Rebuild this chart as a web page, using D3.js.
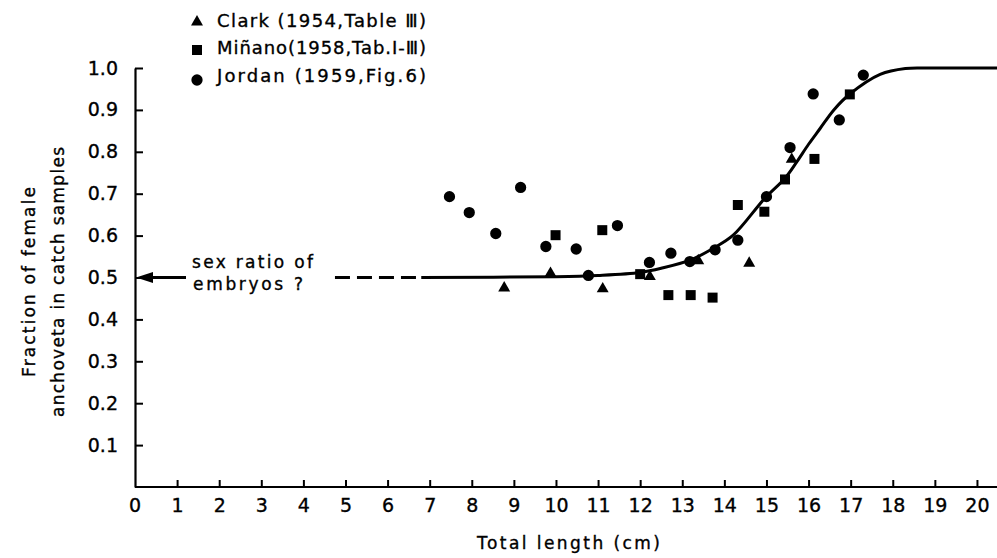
<!DOCTYPE html>
<html>
<head>
<meta charset="utf-8">
<script src="https://cdn.jsdelivr.net/npm/d3@7"></script>
<style>
  html, body { margin: 0; padding: 0; background: #fff; }
  svg { display: block; }
  text { font-family: "DejaVu Sans", sans-serif; fill: #000; stroke: #000; stroke-width: 0.35px; }
</style>
</head>
<body>
<svg id="chart" width="997" height="558"></svg>
<script>
// Fraction of females in anchoveta catch samples by total length (cm)

// Clark (1954, Table III)
const clarkLength = [8.77, 9.87, 11.11, 12.23, 13.38, 14.59, 15.6];
const clarkFemale = [0.475, 0.51, 0.473, 0.502, 0.54, 0.534, 0.782];

// Miñano (1958, Tab. I-III)
const minanoLength = [9.99, 11.1, 12.0, 12.67, 13.2, 13.72, 14.32, 14.95, 15.44, 16.14, 16.98];
const minanoFemale = [0.601, 0.613, 0.508, 0.458, 0.458, 0.452, 0.673, 0.657, 0.734, 0.783, 0.937];

// Jordan (1959, Fig. 6)
const jordanLength = [7.47, 7.94, 8.57, 9.16, 9.76, 10.48, 10.77, 11.46, 12.22, 12.73, 13.18, 13.78, 14.32, 15.0, 15.56, 16.11, 16.73, 17.3];
const jordanFemale = [0.693, 0.655, 0.605, 0.715, 0.574, 0.568, 0.505, 0.624, 0.536, 0.558, 0.538, 0.566, 0.589, 0.693, 0.81, 0.938, 0.876, 0.983];

// Hand-fitted curve: dashed extrapolation, then the solid fit
const dashLength = [4.75, 6.8];
const dashFemale = [0.5, 0.5];
const fitLength = [6.8, 10.0, 11.0, 12.0, 12.5, 13.2, 13.74, 14.21, 14.96, 15.44, 15.72, 16.0, 16.27, 16.6, 16.98, 17.7, 18.3, 18.9, 20.5];
const fitFemale = [0.5, 0.502, 0.505, 0.512, 0.522, 0.542, 0.57, 0.601, 0.689, 0.737, 0.776, 0.818, 0.855, 0.9, 0.938, 0.985, 0.999, 1.0, 1.0];

// Axis ticks
const xTicks = d3.range(0, 21);
const yTicks = [0.1, 0.2, 0.3, 0.4, 0.5, 0.6, 0.7, 0.8, 0.9, 1.0];
const embryoRatio = 0.5;

// Legend
const legendLabels = ["Clark (1954,Table Ⅲ)", "Miñano(1958,Tab.Ⅰ-Ⅲ)", "Jordan (1959,Fig.6)"];
const legendSymbols = ["triangle", "square", "circle"];

const svg = d3.select("#chart");
const x = d3.scaleLinear().domain([0, 20.5]).range([135, 998]);
const y = d3.scaleLinear().domain([0, 1]).range([487, 68]);

const symbolPath = {
  triangle: d3.symbol().type(d3.symbolTriangle).size(62)(),
  square: d3.symbol().type(d3.symbolSquare).size(100)(),
  circle: d3.symbol().type(d3.symbolCircle).size(100)()
};

// Axes
const xAxis = d3.axisBottom(x).tickValues(xTicks.slice(1)).tickSizeInner(-7).tickSizeOuter(0).tickPadding(12)
  .tickFormat(d3.format("d"));
const gx = svg.append("g").attr("transform", `translate(0,${y(0)})`).call(xAxis);
gx.select(".domain").attr("stroke", "#000").attr("stroke-width", 2.2).attr("d", `M${x(0)},0H997`);
gx.selectAll(".tick line").attr("stroke", "#000").attr("stroke-width", 2);
gx.selectAll(".tick text").attr("font-size", 19).attr("font-family", "DejaVu Sans").attr("fill", "#000");
gx.append("text").attr("x", x(0)).attr("y", 12).attr("dy", "0.71em").attr("text-anchor", "middle")
  .attr("font-size", 19).text("0");

const yAxis = d3.axisLeft(y).tickValues(yTicks).tickSizeInner(-8).tickSizeOuter(0).tickPadding(17)
  .tickFormat(d3.format(".1f"));
const gy = svg.append("g").attr("transform", `translate(${x(0)},0)`).call(yAxis);
gy.select(".domain").attr("stroke", "#000").attr("stroke-width", 2.2);
gy.selectAll(".tick line").attr("stroke", "#000").attr("stroke-width", 2);
gy.selectAll(".tick text").attr("font-size", 19).attr("font-family", "DejaVu Sans").attr("fill", "#000");

// Axis titles
svg.append("text").attr("x", 477).attr("y", 549).attr("font-size", 17)
  .attr("textLength", 183).attr("lengthAdjust", "spacing").text("Total length (cm)");
svg.append("text").attr("transform", "translate(35,377) rotate(-90)").attr("font-size", 17)
  .attr("textLength", 190).attr("lengthAdjust", "spacing").text("Fraction of female");
svg.append("text").attr("transform", "translate(64,417) rotate(-90)").attr("font-size", 17)
  .attr("textLength", 270).attr("lengthAdjust", "spacing").text("anchoveta in catch samples");

// Fitted curve
const line = d3.line().x(d => x(d[0])).y(d => y(d[1])).curve(d3.curveCatmullRom.alpha(0.5));
svg.append("path").datum(d3.zip(dashLength, dashFemale)).attr("d", line)
  .attr("fill", "none").attr("stroke", "#000").attr("stroke-width", 3).attr("stroke-dasharray", "15,7");
svg.append("path").datum(d3.zip(fitLength, fitFemale)).attr("d", line)
  .attr("fill", "none").attr("stroke", "#000").attr("stroke-width", 3);

// Arrow marking the embryo sex ratio
const arrowY = y(embryoRatio);
svg.append("line").attr("x1", 186).attr("x2", x(0) + 12).attr("y1", arrowY).attr("y2", arrowY)
  .attr("stroke", "#000").attr("stroke-width", 3);
svg.append("path").attr("d", `M${x(0) + 1},${arrowY}L${x(0) + 18},${arrowY - 5.5}L${x(0) + 18},${arrowY + 5.5}Z`)
  .attr("fill", "#000");
svg.append("text").attr("x", 192).attr("y", 268).attr("font-size", 17)
  .attr("textLength", 121).attr("lengthAdjust", "spacing").text("sex ratio of");
svg.append("text").attr("x", 193).attr("y", 290).attr("font-size", 17)
  .attr("textLength", 110).attr("lengthAdjust", "spacing").text("embryos ?");

// Data points
function drawSeries(xs, ys, sym) {
  svg.append("g").selectAll("path").data(d3.zip(xs, ys)).join("path")
    .attr("d", symbolPath[sym])
    .attr("transform", d => `translate(${x(d[0])},${y(d[1])})`)
    .attr("fill", "#000");
}
drawSeries(clarkLength, clarkFemale, "triangle");
drawSeries(minanoLength, minanoFemale, "square");
drawSeries(jordanLength, jordanFemale, "circle");

// Legend
const legendY = [22, 50, 80];
const textY = [27, 54, 82];
legendLabels.forEach((label, i) => {
  svg.append("path").attr("d", symbolPath[legendSymbols[i]])
    .attr("transform", `translate(197,${legendY[i]})`).attr("fill", "#000");
  svg.append("text").attr("x", 217).attr("y", textY[i]).attr("font-size", 18)
    .attr("textLength", 209).attr("lengthAdjust", "spacing").text(label);
});
</script>
</body>
</html>
